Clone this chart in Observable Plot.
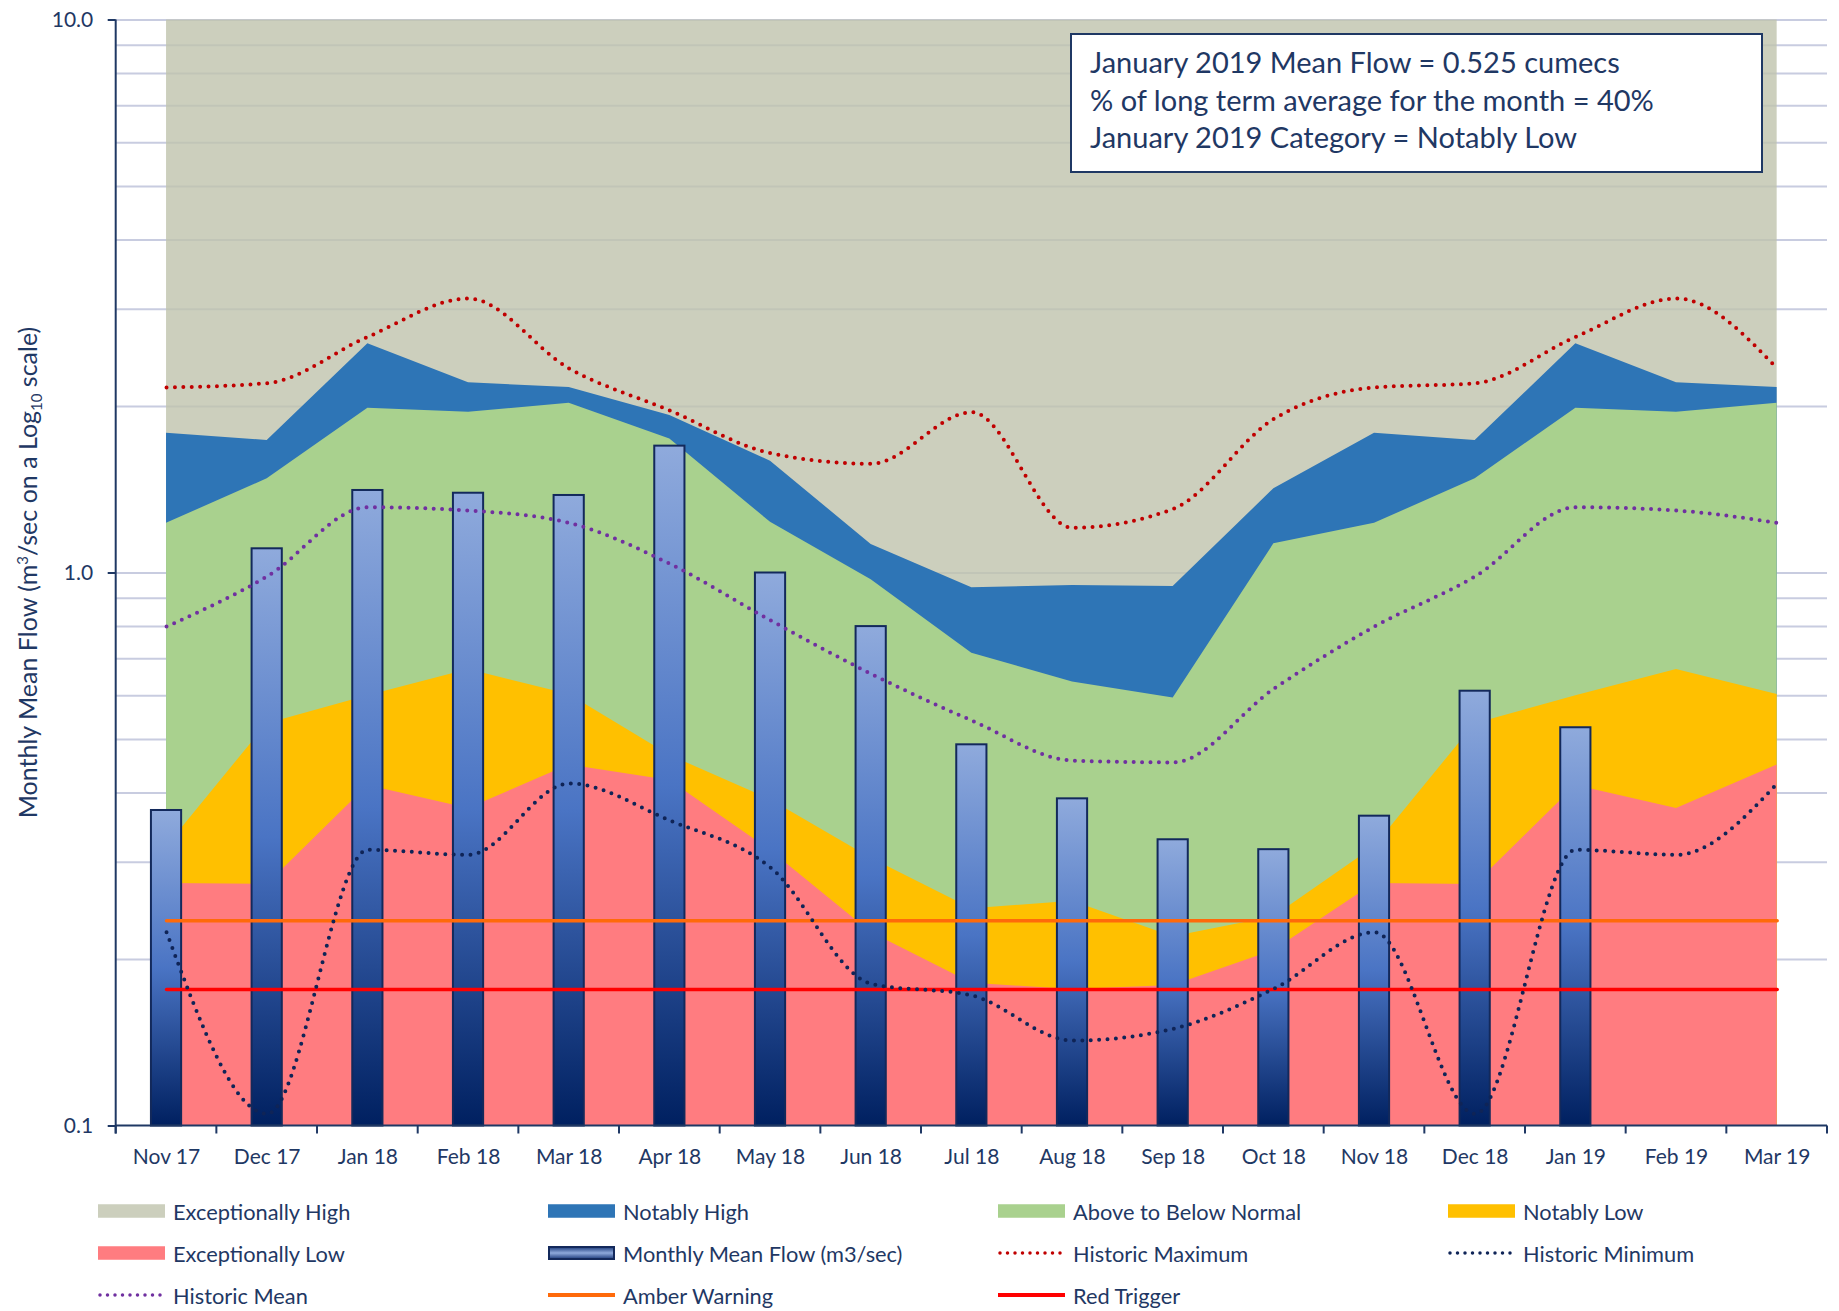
<!DOCTYPE html>
<html>
<head>
<meta charset="utf-8">
<script src="https://cdn.jsdelivr.net/npm/d3@7"></script>
<script src="https://cdn.jsdelivr.net/npm/@observablehq/plot@0.6"></script>
<style>
html, body { margin:0; padding:0; background:#fff; overflow:hidden; }
#wrap { position:relative; width:1839px; height:1311px; font-family: Lato, "Open Sans", sans-serif; color:#1f3864; }
#box { position:absolute; left:1070px; top:32.7px; width:693px; height:140px; box-sizing:border-box; border:2px solid #1f3864; background:#fff; padding:8.8px 0 0 18px; font-size:29px; line-height:37.2px; white-space:nowrap; }
#legend { position:absolute; left:0; top:1185px; width:1839px; height:126px; }
.item { position:absolute; height:42px; display:flex; align-items:center; font-size:21.8px; white-space:nowrap; }
.item svg { margin-right:8px; flex:none; }
</style>
</head>
<body>
<div id="wrap">
  <div id="chart"></div>
  <div id="box"></div>
  <div id="legend"></div>
</div>
<script>
// ---------- data ----------
const months = ["Nov 17","Dec 17","Jan 18","Feb 18","Mar 18","Apr 18","May 18","Jun 18","Jul 18","Aug 18","Sep 18","Oct 18","Nov 18","Dec 18","Jan 19","Feb 19","Mar 19"];

// upper limits of each flow category (m3/sec)
const notablyHighUpper      = [1.790, 1.736, 2.597, 2.208, 2.165, 1.927, 1.593, 1.126, 0.940, 0.949, 0.945, 1.420, 1.790, 1.736, 2.597, 2.208, 2.165];
const normalUpper           = [1.230, 1.480, 1.986, 1.953, 2.028, 1.748, 1.235, 0.972, 0.716, 0.635, 0.594, 1.129, 1.230, 1.480, 1.986, 1.953, 2.028];
const notablyLowUpper       = [0.320, 0.534, 0.600, 0.669, 0.603, 0.468, 0.389, 0.305, 0.247, 0.255, 0.220, 0.239, 0.320, 0.534, 0.600, 0.669, 0.603];
const exceptionallyLowUpper = [0.2745, 0.2734, 0.4127, 0.375, 0.4496, 0.4213, 0.3149, 0.2239, 0.1811, 0.1766, 0.1795, 0.2077, 0.2745, 0.2734, 0.4127, 0.375, 0.4496];

const historicMax  = [2.165, 2.204, 2.674, 3.136, 2.343, 1.967, 1.647, 1.576, 1.953, 1.207, 1.306, 1.899, 2.165, 2.204, 2.674, 3.136, 2.343];
const historicMean = [0.800, 0.986, 1.315, 1.297, 1.232, 1.039, 0.821, 0.657, 0.541, 0.458, 0.4545, 0.6175, 0.800, 0.986, 1.315, 1.297, 1.232];
const historicMin  = [0.2241, 0.1052, 0.3158, 0.3093, 0.4163, 0.3568, 0.2934, 0.1808, 0.1722, 0.1427, 0.1499, 0.1771, 0.2241, 0.1052, 0.3158, 0.3093, 0.4163];

const monthlyMeanFlow = [0.372, 1.106, 1.410, 1.394, 1.381, 1.696, 1.000, 0.800, 0.489, 0.3905, 0.3293, 0.316, 0.3633, 0.6113, 0.525, null, null];

const amberWarning = 0.235;
const redTrigger = 0.1766;

const yTicks = [0.1, 1, 10];
const gridValues = [0.2, 0.3, 0.4, 0.5, 0.6, 0.7, 0.8, 0.9, 1, 2, 3, 4, 5, 6, 7, 8, 9, 10];

const boxLines = [
  "January 2019 Mean Flow = 0.525 cumecs",
  "% of long term average for the month = 40%",
  "January 2019 Category = Notably Low"
];

const legendLabels = ["Exceptionally High", "Notably High", "Above to Below Normal", "Notably Low",
  "Exceptionally Low", "Monthly Mean Flow (m3/sec)", "Historic Maximum", "Historic Minimum",
  "Historic Mean", "Amber Warning", "Red Trigger"];

// ---------- styles ----------
const navy = "#1f3864";
const C = {
  ehArea: "rgb(191,195,173)", eh: "#cccfbd", nh: "#2e75b6", normal: "#a9d18e", nl: "#ffc000", el: "#ff7c80",
  max: "#c00000", min: "#0f2457", mean: "#7030a0", amber: "#ff6a0a", red: "#ff0000", grid: "#c8cce0", barStroke: "#13295b"
};

const rows = months.map((m, i) => ({
  month: m, nhu: notablyHighUpper[i], nu: normalUpper[i], nlu: notablyLowUpper[i], elu: exceptionallyLowUpper[i],
  hmax: historicMax[i], hmean: historicMean[i], hmin: historicMin[i], flow: monthlyMeanFlow[i]
}));

const W = 1839, H = 1185;

const defsMark = () => {
  const g = d3.create("svg:g");
  const lg = g.append("defs").append("linearGradient").attr("id", "barGrad")
    .attr("x1", 0).attr("y1", 0).attr("x2", 0).attr("y2", 1);
  [[0, "#8faadc"], [0.5, "#4a74c4"], [1, "#002060"]].forEach(([o, c]) => lg.append("stop").attr("offset", o).attr("stop-color", c));
  return g.node();
};

const axisLines = (index, scales, values, dims) => {
  const x = scales.x, y = scales.y;
  const bw = x.bandwidth ? x.bandwidth() : 0;
  const step = x.step ? x.step() : (dims.width - dims.marginLeft - dims.marginRight) / months.length;
  const y0 = y(0.1), yTop = y(10);
  const left = dims.marginLeft, right = dims.width - dims.marginRight;
  const g = d3.create("svg:g").attr("stroke", navy).attr("stroke-width", 2).attr("fill", "none");
  g.append("line").attr("x1", left).attr("x2", left).attr("y1", yTop).attr("y2", y0 + 8);
  g.append("line").attr("x1", left).attr("x2", right).attr("y1", y0).attr("y2", y0);
  const bounds = months.map(m => x(m) + bw / 2 - step / 2);
  bounds.push(x(months[months.length - 1]) + bw / 2 + step / 2);
  for (const b of bounds) g.append("line").attr("x1", b).attr("x2", b).attr("y1", y0).attr("y2", y0 + 8);
  return g.node();
};

const yLabel = (index, scales) => {
  const cy = (scales.y(10) + scales.y(0.1)) / 2;
  const t = d3.create("svg:text")
    .attr("transform", `translate(37,${cy}) rotate(-90)`)
    .attr("text-anchor", "middle").attr("fill", navy)
    .attr("font-family", "Lato, sans-serif").attr("font-size", 25);
  t.append("tspan").text("Monthly Mean Flow (m");
  t.append("tspan").attr("font-size", 15).attr("dy", -9).text("3");
  t.append("tspan").attr("dy", 9).text("/sec on a Log");
  t.append("tspan").attr("font-size", 15).attr("dy", 5).text("10");
  t.append("tspan").attr("dy", -5).text(" scale)");
  return t.node();
};

const dotted = {strokeWidth: 4, strokeDasharray: "0 8.4", strokeLinecap: "round", curve: "monotone-x"};

const chart = Plot.plot({
  width: W, height: H,
  marginLeft: 115.7, marginRight: 12, marginTop: 19.5, marginBottom: H - 1125.5,
  style: {fontFamily: "Lato, sans-serif", fontSize: "21px", color: navy, background: "transparent", overflow: "visible"},
  x: {type: "band", domain: months, paddingInner: 0.7, paddingOuter: 0.35, round: false},
  y: {type: "log", domain: [0.1, 10]},
  marks: [
    defsMark,
    Plot.ruleY(gridValues, {stroke: C.grid, strokeWidth: 2}),
    Plot.areaY(rows, {x: "month", y1: 0.1, y2: 10, fill: C.ehArea, fillOpacity: 0.8}),
    Plot.areaY(rows, {x: "month", y1: 0.1, y2: "nhu", fill: C.nh}),
    Plot.areaY(rows, {x: "month", y1: 0.1, y2: "nu", fill: C.normal}),
    Plot.areaY(rows, {x: "month", y1: 0.1, y2: "nlu", fill: C.nl}),
    Plot.areaY(rows, {x: "month", y1: 0.1, y2: "elu", fill: C.el}),
    Plot.barY(rows.filter(d => d.flow != null), {x: "month", y1: 0.1, y2: "flow", fill: "url(#barGrad)", stroke: C.barStroke, strokeWidth: 2}),
    Plot.lineY(rows, {x: "month", y: () => amberWarning, stroke: C.amber, strokeWidth: 3.5}),
    Plot.lineY(rows, {x: "month", y: () => redTrigger, stroke: C.red, strokeWidth: 3.5}),
    Plot.line(rows, {x: "month", y: "hmax", stroke: C.max, ...dotted}),
    Plot.line(rows, {x: "month", y: "hmin", stroke: C.min, ...dotted}),
    Plot.line(rows, {x: "month", y: "hmean", stroke: C.mean, ...dotted}),
    axisLines,
    Plot.axisY({ticks: yTicks, tickFormat: d3.format(".1f"), tickSize: 8, tickPadding: 15, strokeWidth: 2, fontSize: 21, label: null}),
    Plot.axisX({tickSize: 0, tickPadding: 23, fontSize: 21, label: null}),
    yLabel
  ]
});
document.getElementById("chart").appendChild(chart);

// ---------- annotation box ----------
const box = document.getElementById("box");
boxLines.forEach(s => { const d = document.createElement("div"); d.textContent = s; box.appendChild(d); });

// ---------- legend ----------
const swatchSpecs = [
  {type: "rect", color: C.eh}, {type: "rect", color: C.nh}, {type: "rect", color: C.normal}, {type: "rect", color: C.nl},
  {type: "rect", color: C.el}, {type: "bar"}, {type: "dots", color: C.max}, {type: "dots", color: C.min},
  {type: "dots", color: C.mean}, {type: "line", color: C.amber}, {type: "line", color: C.red}
];
const rowCenters = [26, 68.3, 110];
const legend = document.getElementById("legend");
legendLabels.forEach((label, i) => {
  const col = i % 4, row = Math.floor(i / 4);
  const item = document.createElement("div");
  item.className = "item";
  item.style.left = (98 + col * 450) + "px";
  item.style.top = (rowCenters[row] - 21) + "px";
  const spec = swatchSpecs[i];
  const svg = d3.create("svg").attr("width", 67).attr("height", 16);
  if (spec.type === "rect") {
    svg.append("rect").attr("x", 0).attr("y", 1.25).attr("width", 67).attr("height", 13.5).attr("fill", spec.color);
  } else if (spec.type === "bar") {
    const lg = svg.append("defs").append("linearGradient").attr("id", "legGrad").attr("x1", 0).attr("y1", 0).attr("x2", 0).attr("y2", 1);
    [[0, "#1b3a7a"], [0.5, "#8faadc"], [1, "#1b3a7a"]].forEach(([o, c]) => lg.append("stop").attr("offset", o).attr("stop-color", c));
    svg.append("rect").attr("x", 1).attr("y", 2).attr("width", 65).attr("height", 12).attr("fill", "url(#legGrad)").attr("stroke", C.barStroke).attr("stroke-width", 2);
  } else if (spec.type === "dots") {
    svg.append("line").attr("x1", 2).attr("x2", 66).attr("y1", 8).attr("y2", 8).attr("stroke", spec.color)
      .attr("stroke-width", 3.5).attr("stroke-dasharray", "0 7.5").attr("stroke-linecap", "round");
  } else {
    svg.append("line").attr("x1", 0).attr("x2", 67).attr("y1", 8).attr("y2", 8).attr("stroke", spec.color).attr("stroke-width", 4);
  }
  item.appendChild(svg.node());
  const span = document.createElement("span");
  span.textContent = label;
  item.appendChild(span);
  legend.appendChild(item);
});
</script>
</body>
</html>
